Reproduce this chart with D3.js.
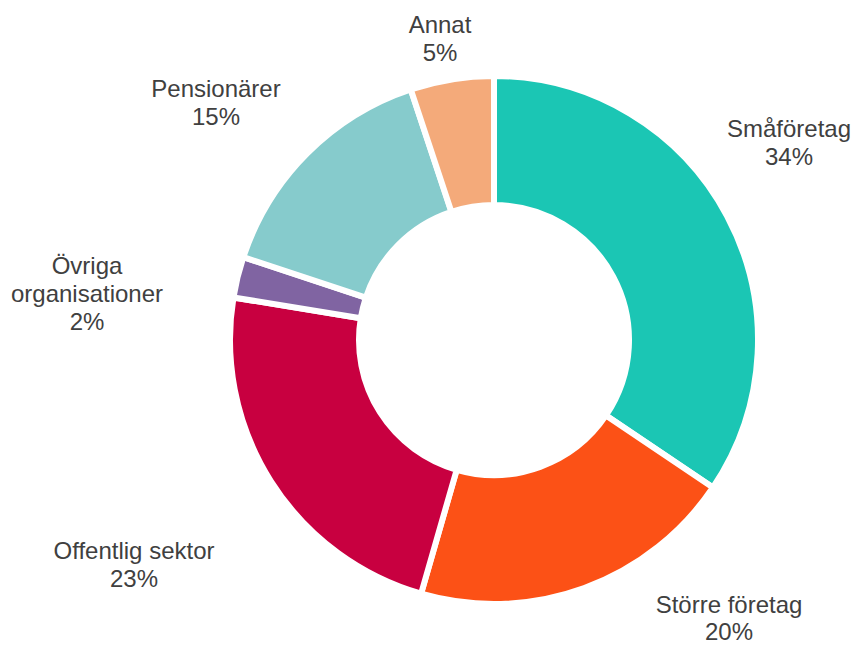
<!DOCTYPE html>
<html><head><meta charset="utf-8">
<script src="https://cdn.jsdelivr.net/npm/d3@7"></script>
<style>body{margin:0;background:#fff;} svg{display:block;}</style>
</head><body>
<svg id="chart" width="853" height="646"></svg>
<script>
const categories = ["Småföretag", "Större företag", "Offentlig sektor", "Övriga organisationer", "Pensionärer", "Annat"];
const values = [34.4, 20.0, 23.1, 2.5, 14.8, 5.1];
const percentLabels = ["34%", "20%", "23%", "2%", "15%", "5%"];
const labelLines = [["Småföretag"], ["Större företag"], ["Offentlig sektor"], ["Övriga", "organisationer"], ["Pensionärer"], ["Annat"]];
const colors = ["#1BC6B4", "#FC5116", "#C80040", "#8064A2", "#86CBCC", "#F4AA7A"];

const svg = d3.select("#chart");
const cx = 494, cy = 340, rOuter = 264, rInner = 135;
const g = svg.append("g").attr("transform", `translate(${cx},${cy})`);

const pie = d3.pie().sort(null).value(d => d);
const arcs = pie(values);
const arc = d3.arc().innerRadius(rInner).outerRadius(rOuter);

g.selectAll("path").data(arcs).enter().append("path")
  .attr("d", arc)
  .attr("fill", (d, i) => colors[i])
  .attr("stroke", "#fff")
  .attr("stroke-width", 6)
  .attr("stroke-linejoin", "miter");

// label anchor: center x and first baseline y
const labelPos = [[789, 137], [729, 613], [134, 559], [87, 274], [216, 97], [440, 33]];
const lineH = 28;
arcs.forEach((d, i) => {
  const [x, y] = labelPos[i];
  const lines = labelLines[i].concat([percentLabels[i]]);
  const lh = i === 1 ? 27 : lineH;
  const t = svg.append("text")
    .attr("text-anchor", "middle")
    .attr("font-family", "'Liberation Sans', Arial, sans-serif")
    .attr("font-size", 24)
    .attr("fill", "#404040");
  lines.forEach((s, k) => {
    t.append("tspan").attr("x", x).attr("y", y + k * lh).text(s);
  });
});
</script>
</body></html>
